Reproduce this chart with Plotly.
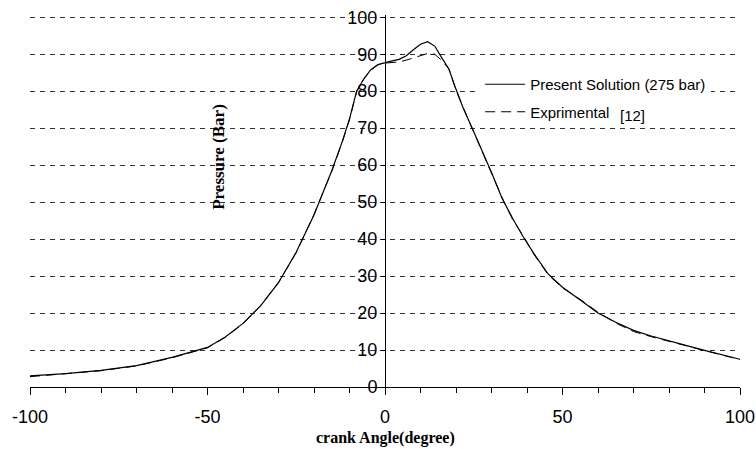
import plotly.graph_objects as go

# crank angle (degree)
angle = [-100, -90, -80, -70, -60, -50, -45, -40, -35, -30, -25, -20, -15, -12, -10, -8, -6, -4, -2,
         0, 2, 4, 6, 8, 10, 12, 14, 16, 18, 20, 22, 25, 28, 30, 33, 36, 39, 42, 46, 50, 55,
         60, 65, 70, 75, 80, 85, 90, 95, 100]

# Present Solution (275 bar)
present = [3.0, 3.6, 4.5, 5.8, 8.0, 10.7, 13.5, 17.2, 22.0, 28.2, 36.5, 46.5, 58.5, 66.5, 72.5, 80.0, 83.3, 85.8, 87.2,
           87.8, 88.2, 88.6, 89.6, 91.2, 92.7, 93.4, 92.2, 89.0, 86.0, 80.5, 75.5, 69.0, 62.5, 58.0, 51.0, 45.5, 40.5, 36.0, 30.5, 27.0, 23.5,
           20.0, 17.5, 15.3, 13.8, 12.6, 11.2, 9.9, 8.7, 7.5]

# Exprimental [12]
experimental = [2.8, 3.5, 4.4, 5.7, 7.9, 10.6, 13.4, 17.1, 22.1, 28.3, 36.3, 46.7, 58.3, 66.3, 72.3, 79.8, 83.2, 85.7, 87.1,
                87.6, 87.7, 87.9, 88.4, 89.0, 89.7, 90.2, 90.0, 88.3, 86.0, 80.3, 75.6, 68.8, 62.3, 57.8, 51.2, 45.2, 40.8, 35.8, 30.3, 26.8, 23.7,
                20.2, 17.3, 15.0, 13.6, 12.4, 11.0, 10.0, 8.8, 7.4]

x_ticks = [-100, -50, 0, 50, 100]
y_ticks = [0, 10, 20, 30, 40, 50, 60, 70, 80, 90, 100]

fig = go.Figure()
fig.add_trace(go.Scatter(x=angle, y=present, mode="lines", name="Present Solution (275 bar)",
                         legendgroup="a", line=dict(color="black", width=1.2)))
fig.add_trace(go.Scatter(x=angle, y=experimental, mode="lines", name="Exprimental",
                         legendgroup="b", line=dict(color="black", width=1, dash="10px,6px")))

fig.update_layout(
    width=756, height=449,
    margin=dict(l=30, r=16, t=15, b=62, autoexpand=False),
    paper_bgcolor="white", plot_bgcolor="white",
    font=dict(family="Arial, Liberation Sans, sans-serif", color="black"),
    showlegend=True,
    legend=dict(x=0.634, y=0.8575, xanchor="left", yanchor="top", bgcolor="white",
                borderwidth=0, font=dict(size=15, family="Arial, Liberation Sans, sans-serif"),
                tracegroupgap=5, itemwidth=40),
    xaxis=dict(range=[-100, 100], tickvals=x_ticks, ticktext=[str(v) for v in x_ticks],
               showgrid=False, zeroline=False, showline=True, linecolor="black", linewidth=1,
               ticks="outside", ticklen=7, tickcolor="black", automargin=False,
               ticklabeloverflow="allow",
               minor=dict(dtick=10, tick0=0, ticks="outside", ticklen=5, tickcolor="black"),
               tickfont=dict(size=18), ticklabelstandoff=6),
    yaxis=dict(range=[0, 100.6], tickvals=y_ticks, anchor="free", position=0.5, automargin=False,
               ticklabeloverflow="allow",
               showgrid=True, gridcolor="#333333", griddash="5px,5px", gridwidth=1,
               zeroline=False, showline=True, linecolor="black", linewidth=1,
               ticks="outside", ticklen=4, tickcolor="black", tickfont=dict(size=18)),
)

fig.add_annotation(text="<b>crank Angle(degree)</b>", xref="paper", yref="paper", x=0.5, y=-0.137,
                   xanchor="center", yanchor="middle", showarrow=False,
                   font=dict(family="Times New Roman, Liberation Serif, serif", size=16, color="black"))
fig.add_annotation(text="<b>Pressure (Bar)</b>", xref="x", yref="y", x=-47, y=62.3,
                   textangle=-90, showarrow=False, xanchor="center", yanchor="middle",
                   font=dict(family="Times New Roman, Liberation Serif, serif", size=17, color="black"))
fig.add_annotation(text="[12]", xref="paper", yref="paper", x=0.848, y=0.7285,
                   showarrow=False, xanchor="center", yanchor="middle", bgcolor="white", borderpad=3,
                   font=dict(size=15, color="black"))

fig.write_html("out.html", config={"displayModeBar": False},
               post_script="document.body.style.margin='0px';")
